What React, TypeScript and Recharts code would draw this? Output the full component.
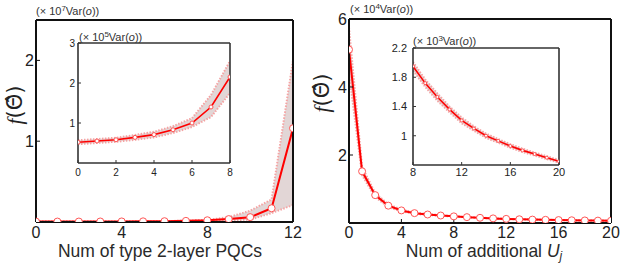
import React from 'react';
import { ComposedChart, Line, Area, XAxis, YAxis } from 'recharts';

// left panel: f(theta) vs number of type-2 layers, units of 1e7 Var(o)
const LEFT_X = [0, 1, 2, 3, 4, 5, 6, 7, 8, 9, 10, 11, 12];
const LEFT_MEAN = [0.0052, 0.0055, 0.0058, 0.0064, 0.0071, 0.0083, 0.01, 0.014, 0.0215, 0.036, 0.06, 0.17, 1.16];
const LEFT_UPPER = [0.0057, 0.006, 0.0063, 0.007, 0.0078, 0.0092, 0.0112, 0.017, 0.0255, 0.06, 0.14, 0.28, 2.0];
const LEFT_LOWER = [0.0047, 0.005, 0.0053, 0.0058, 0.0064, 0.0075, 0.009, 0.0115, 0.0175, 0.02, 0.03, 0.11, 0.21];

// left inset, units of 1e5 Var(o)
const LEFT_INSET_X = [0, 1, 2, 3, 4, 5, 6, 7, 8];
const LEFT_INSET_MEAN = [0.52, 0.55, 0.58, 0.64, 0.71, 0.83, 1.0, 1.4, 2.15];
const LEFT_INSET_UPPER = [0.57, 0.6, 0.63, 0.7, 0.78, 0.92, 1.12, 1.7, 2.55];
const LEFT_INSET_LOWER = [0.47, 0.5, 0.53, 0.58, 0.64, 0.75, 0.9, 1.15, 1.75];

// right panel: f(theta) vs number of additional U_j, units of 1e4 Var(o)
const RIGHT_X = [0, 1, 2, 3, 4, 5, 6, 7, 8, 9, 10, 11, 12, 13, 14, 15, 16, 17, 18, 19, 20];
const RIGHT_MEAN = [5.1, 1.52, 0.82, 0.51, 0.37, 0.29, 0.25, 0.22, 0.195, 0.172, 0.153, 0.136, 0.121, 0.11, 0.1, 0.093, 0.086, 0.08, 0.075, 0.07, 0.065];
const RIGHT_UPPER = [5.75, 1.65, 0.88, 0.55, 0.4, 0.31, 0.265, 0.23, 0.201, 0.177, 0.158, 0.14, 0.125, 0.113, 0.103, 0.0955, 0.0885, 0.0823, 0.077, 0.072, 0.0668];
const RIGHT_LOWER = [4.4, 1.4, 0.76, 0.47, 0.34, 0.27, 0.235, 0.21, 0.189, 0.167, 0.148, 0.132, 0.117, 0.107, 0.097, 0.0905, 0.0835, 0.0777, 0.073, 0.068, 0.0632];

// right inset, units of 1e3 Var(o)
const RIGHT_INSET_X = [8, 9, 10, 11, 12, 13, 14, 15, 16, 17, 18, 19, 20];
const RIGHT_INSET_MEAN = [1.95, 1.72, 1.53, 1.36, 1.21, 1.1, 1.0, 0.93, 0.86, 0.8, 0.75, 0.7, 0.65];
const RIGHT_INSET_UPPER = [2.01, 1.77, 1.58, 1.4, 1.25, 1.13, 1.03, 0.955, 0.885, 0.823, 0.77, 0.72, 0.668];
const RIGHT_INSET_LOWER = [1.89, 1.67, 1.48, 1.32, 1.17, 1.07, 0.97, 0.905, 0.835, 0.777, 0.73, 0.68, 0.632];

const RED = '#ff0000';
const BAND = '#e2d6d6';
const BAND_EDGE = '#f5a3a3';
const FONT = '"Liberation Sans", Arial, sans-serif';

function rows(x: number[], mean: number[], up: number[], lo: number[]) {
  return x.map((v, i) => ({ x: v, mean: mean[i], upper: up[i], lower: lo[i], range: [lo[i], up[i]] }));
}

interface PanelProps {
  left: number;
  top: number;
  width: number;
  height: number;
  // plot frame edges in panel-local pixels
  frameBox: { left: number; top: number; right: number; bottom: number };
  data: any[];
  xDomain: [number, number];
  yDomain: [number, number];
  xTicks: number[];
  yTicks: number[];
  fontSize: number;
  tick: number;
  xMargin: number;
  yMargin: number;
  dotR: number;
  lineW: number;
  frame: string;
  frameW: number;
}

function Panel(p: PanelProps) {
  const tickStyle = { fill: '#222', fontSize: p.fontSize, fontFamily: FONT };
  const axisLine = { stroke: p.frame, strokeWidth: p.frameW };
  const f = p.frameBox;
  // axes are 1px thick, so margins are one pixel short of the frame
  const margin = {
    top: f.top - 1,
    left: f.left - 1,
    right: p.width - f.right - 1,
    bottom: p.height - f.bottom - 1,
  };
  return (
    <div style={{ position: 'absolute', left: p.left, top: p.top }}>
      <ComposedChart width={p.width} height={p.height} data={p.data} margin={margin}>
        <XAxis
          xAxisId="b"
          dataKey="x"
          type="number"
          domain={p.xDomain}
          ticks={p.xTicks}
          allowDataOverflow
          height={1}
          tickSize={-p.tick}
          tickMargin={p.xMargin}
          tick={tickStyle}
          axisLine={axisLine}
          tickLine={{ stroke: p.frame }}
        />
        <XAxis
          xAxisId="t"
          orientation="top"
          type="number"
          domain={p.xDomain}
          ticks={p.xTicks}
          allowDataOverflow
          height={1}
          tickSize={-p.tick}
          tick={false}
          axisLine={axisLine}
          tickLine={{ stroke: p.frame }}
        />
        <YAxis
          yAxisId="l"
          type="number"
          domain={p.yDomain}
          ticks={p.yTicks}
          allowDataOverflow
          width={1}
          tickSize={-p.tick}
          tickMargin={p.yMargin}
          tick={tickStyle}
          axisLine={axisLine}
          tickLine={{ stroke: p.frame }}
        />
        <YAxis
          yAxisId="r"
          orientation="right"
          type="number"
          domain={p.yDomain}
          ticks={p.yTicks}
          allowDataOverflow
          width={1}
          tickSize={-p.tick}
          tick={false}
          axisLine={axisLine}
          tickLine={{ stroke: p.frame }}
        />
        {/* spread band */}
        <Area
          xAxisId="b"
          yAxisId="l"
          dataKey="range"
          stroke="none"
          fill={BAND}
          fillOpacity={1}
          isAnimationActive={false}
        />
        <Line xAxisId="b" yAxisId="l" dataKey="upper" stroke={BAND_EDGE} strokeWidth={2} strokeDasharray="1.5 1.5" dot={false} isAnimationActive={false} />
        <Line xAxisId="b" yAxisId="l" dataKey="lower" stroke={BAND_EDGE} strokeWidth={2} strokeDasharray="1.5 1.5" dot={false} isAnimationActive={false} />
        <Line
          xAxisId="b"
          yAxisId="l"
          dataKey="mean"
          stroke={RED}
          strokeWidth={p.lineW}
          dot={{ r: p.dotR, fill: '#fff', stroke: '#ff5555', strokeWidth: 1 }}
          isAnimationActive={false}
        />
      </ComposedChart>
    </div>
  );
}

const expStyle: React.CSSProperties = {
  position: 'absolute',
  fontFamily: FONT,
  fontSize: 11,
  color: '#333',
  whiteSpace: 'nowrap',
  lineHeight: '13px',
};

function Exp({ left, top, p }: { left: number; top: number; p: number }) {
  return (
    <div style={{ ...expStyle, left, top }}>
      (× 10<sup style={{ fontSize: 8, verticalAlign: '4px', lineHeight: 0 }}>{p}</sup>Var(<i>o</i>))
    </div>
  );
}

function YTitle({ cx, cy }: { cx: number; cy: number }) {
  return (
    <div
      style={{
        position: 'absolute',
        left: cx - 30,
        top: cy - 13,
        width: 60,
        height: 26,
        lineHeight: '26px',
        textAlign: 'center',
        transform: 'rotate(-90deg)',
        fontSize: 21,
        color: '#222',
        fontFamily: '"DejaVu Sans", sans-serif',
        whiteSpace: 'nowrap',
      }}
    >
      <i style={{ fontFamily: '"Liberation Serif", serif' }}>f</i>(Θ̂)
    </div>
  );
}

const xTitleStyle: React.CSSProperties = {
  position: 'absolute',
  width: 320,
  textAlign: 'center',
  fontFamily: FONT,
  fontSize: 17.5,
  color: '#2a2a2a',
  whiteSpace: 'nowrap',
  top: 243,
  lineHeight: '17px',
};

export default function App() {
  const leftData = rows(LEFT_X, LEFT_MEAN, LEFT_UPPER, LEFT_LOWER);
  const leftInset = rows(LEFT_INSET_X, LEFT_INSET_MEAN, LEFT_INSET_UPPER, LEFT_INSET_LOWER);
  const rightData = rows(RIGHT_X, RIGHT_MEAN, RIGHT_UPPER, RIGHT_LOWER);
  const rightInset = rows(RIGHT_INSET_X, RIGHT_INSET_MEAN, RIGHT_INSET_UPPER, RIGHT_INSET_LOWER);

  return (
    <div style={{ position: 'absolute', left: 0, top: 0, width: 629, height: 264, background: '#fff', overflow: 'hidden' }}>
      <Panel
        left={0} top={0} width={315} height={264}
        frameBox={{ left: 36, top: 20, right: 293, bottom: 222 }}
        data={leftData} xDomain={[0, 12]} yDomain={[0, 2.5]}
        xTicks={[0, 4, 8, 12]} yTicks={[1, 2]}
        fontSize={16} tick={4} xMargin={9} yMargin={6}
        dotR={3.5} lineW={2} frame="#111" frameW={2}
      />
      <Panel
        left={315} top={0} width={314} height={264}
        frameBox={{ left: 34, top: 19, right: 296, bottom: 223 }}
        data={rightData} xDomain={[0, 20]} yDomain={[0, 6]}
        xTicks={[0, 4, 8, 12, 16, 20]} yTicks={[2, 4, 6]}
        fontSize={16} tick={4} xMargin={8} yMargin={6}
        dotR={3.5} lineW={2} frame="#111" frameW={2}
      />
      <Panel
        left={60} top={30} width={180} height={155}
        frameBox={{ left: 18, top: 13, right: 170, bottom: 133 }}
        data={leftInset} xDomain={[0, 8]} yDomain={[0, 3]}
        xTicks={[0, 2, 4, 6, 8]} yTicks={[1, 2, 3]}
        fontSize={10} tick={3} xMargin={9} yMargin={6}
        dotR={2} lineW={1.6} frame="#333" frameW={1.6}
      />
      <Panel
        left={385} top={35} width={190} height={150}
        frameBox={{ left: 28, top: 13, right: 174, bottom: 130 }}
        data={rightInset} xDomain={[8, 20]} yDomain={[0.6, 2.2]}
        xTicks={[8, 12, 16, 20]} yTicks={[1, 1.4, 1.8, 2.2]}
        fontSize={11} tick={3} xMargin={6} yMargin={9}
        dotR={1.5} lineW={1.6} frame="#333" frameW={1.6}
      />
      <Exp left={36} top={5} p={7} />
      <Exp left={79} top={31} p={5} />
      <Exp left={350} top={3} p={4} />
      <Exp left={413} top={35} p={3} />
      <YTitle cx={15} cy={105} />
      <YTitle cx={322} cy={93} />
      <div style={{ ...xTitleStyle, left: 0 }}>Num of type 2-layer PQCs</div>
      <div style={{ ...xTitleStyle, left: 324 }}>
        Num of additional <i>U</i>
        <span style={{ fontSize: 12, fontStyle: 'italic', position: 'relative', top: 3 }}>j</span>
      </div>
    </div>
  );
}
